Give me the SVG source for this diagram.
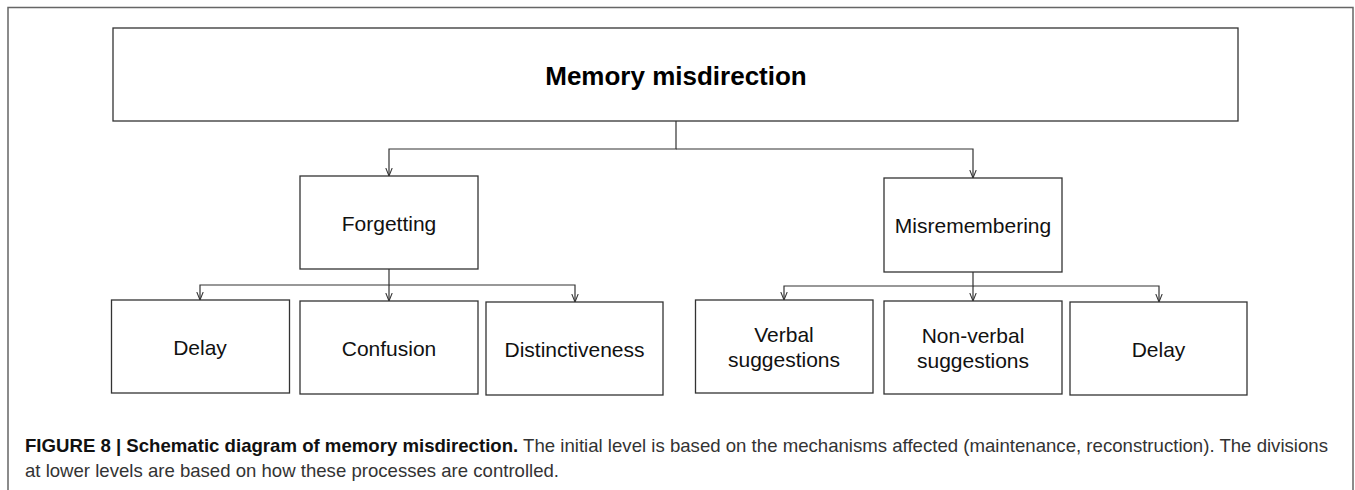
<svg xmlns="http://www.w3.org/2000/svg" width="1355" height="490" viewBox="0 0 1355 490">
  <style>
    .box { fill: #fff; stroke: #333; stroke-width: 1.3; }
    .lbl { font-family: "Liberation Sans", Arial, sans-serif; font-size: 21px; fill: #111; text-anchor: middle; }
    .title { font-family: "Liberation Sans", Arial, sans-serif; font-size: 26px; font-weight: bold; fill: #000; text-anchor: middle; }
    .wire { fill: none; stroke: #333; stroke-width: 1.2; }
    .cap { font-family: "Liberation Sans", Arial, sans-serif; font-size: 19px; fill: #333; }
    .cap .b { font-weight: bold; fill: #111; }
  </style>
  <defs>
    <marker id="arr" viewBox="0 0 10 10" refX="10" refY="5" markerWidth="8" markerHeight="8" markerUnits="userSpaceOnUse" orient="auto">
      <path d="M0,1 L10,5 L0,9" fill="none" stroke="#333" stroke-width="1.3"/>
    </marker>
  </defs>

  <rect width="1355" height="490" fill="#fff"/>
  <!-- figure frame, open at the bottom -->
  <path d="M8,495 V7.5 H1353 V495" fill="none" stroke="#666" stroke-width="1.5"/>

  <g id="connectors">
    <path class="wire" d="M676,121 V149 H389 V176" marker-end="url(#arr)"/>
    <path class="wire" d="M676,149 H973 V178" marker-end="url(#arr)"/>
    <path class="wire" d="M389,269 V285 H200 V300" marker-end="url(#arr)"/>
    <path class="wire" d="M389,285 V301" marker-end="url(#arr)"/>
    <path class="wire" d="M389,285 H575 V302" marker-end="url(#arr)"/>
    <path class="wire" d="M973,272 V286 H784 V300" marker-end="url(#arr)"/>
    <path class="wire" d="M973,286 V301" marker-end="url(#arr)"/>
    <path class="wire" d="M973,286 H1159 V302" marker-end="url(#arr)"/>
  </g>

  <g id="memory-misdirection">
    <rect class="box" x="113" y="28" width="1125" height="93"/>
    <text class="title" x="676" y="85">Memory misdirection</text>
  </g>
  <g id="forgetting">
    <rect class="box" x="300" y="176" width="178" height="93"/>
    <text class="lbl" x="389" y="231">Forgetting</text>
  </g>
  <g id="misremembering">
    <rect class="box" x="884" y="178" width="178" height="94"/>
    <text class="lbl" x="973" y="233">Misremembering</text>
  </g>
  <g id="delay-1">
    <rect class="box" x="111.5" y="300" width="178" height="93"/>
    <text class="lbl" x="200" y="355">Delay</text>
  </g>
  <g id="confusion">
    <rect class="box" x="300" y="301" width="178" height="93"/>
    <text class="lbl" x="389" y="356">Confusion</text>
  </g>
  <g id="distinctiveness">
    <rect class="box" x="486" y="302" width="177" height="93"/>
    <text class="lbl" x="574.5" y="357">Distinctiveness</text>
  </g>
  <g id="verbal-suggestions">
    <rect class="box" x="695.5" y="300" width="177.5" height="93"/>
    <text class="lbl" x="784" y="342">Verbal</text>
    <text class="lbl" x="784" y="367">suggestions</text>
  </g>
  <g id="non-verbal-suggestions">
    <rect class="box" x="884" y="301" width="178" height="93"/>
    <text class="lbl" x="973" y="343">Non-verbal</text>
    <text class="lbl" x="973" y="368">suggestions</text>
  </g>
  <g id="delay-2">
    <rect class="box" x="1070" y="302" width="177" height="93"/>
    <text class="lbl" x="1158.5" y="357">Delay</text>
  </g>

  <g id="caption">
    <text class="cap" x="25" y="452" textLength="1303" lengthAdjust="spacingAndGlyphs"><tspan class="b">FIGURE 8 | Schematic diagram of memory misdirection.</tspan> The initial level is based on the mechanisms affected (maintenance, reconstruction). The divisions</text>
    <text class="cap" x="25" y="477" textLength="534" lengthAdjust="spacingAndGlyphs">at lower levels are based on how these processes are controlled.</text>
  </g>
</svg>
